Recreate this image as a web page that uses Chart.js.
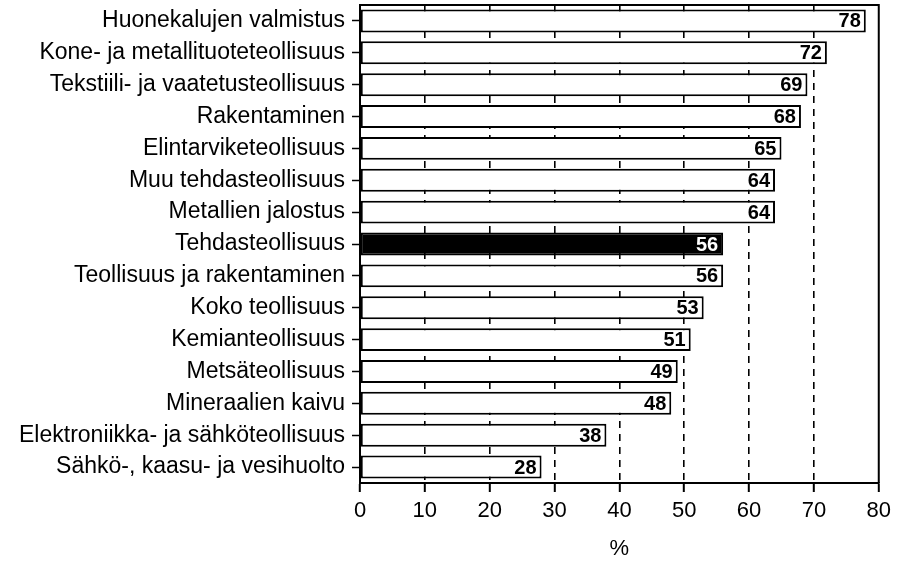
<!DOCTYPE html>
<html>
<head>
<meta charset="utf-8">
<script src="https://cdn.jsdelivr.net/npm/chart.js@4/dist/chart.umd.min.js"></script>
<style>
  html, body { margin: 0; padding: 0; background: #fff; }
  #wrap { width: 897px; height: 562px; }
</style>
</head>
<body>
<div id="wrap"><canvas id="c" width="897" height="562"></canvas></div>
<script>
const categories = [
  "Huonekalujen valmistus",
  "Kone- ja metallituoteteollisuus",
  "Tekstiili- ja vaatetusteollisuus",
  "Rakentaminen",
  "Elintarviketeollisuus",
  "Muu tehdasteollisuus",
  "Metallien jalostus",
  "Tehdasteollisuus",
  "Teollisuus ja rakentaminen",
  "Koko teollisuus",
  "Kemianteollisuus",
  "Metsäteollisuus",
  "Mineraalien kaivu",
  "Elektroniikka- ja sähköteollisuus",
  "Sähkö-, kaasu- ja vesihuolto"
];
const values = [78, 72, 69, 68, 65, 64, 64, 56, 56, 53, 51, 49, 48, 38, 28];
const highlighted = ["Tehdasteollisuus"];
const xTicks = [0, 10, 20, 30, 40, 50, 60, 70, 80];
const xTitle = "%";

const isHi = (i) => highlighted.includes(categories[i]);

const framePlugin = {
  id: 'frame',
  afterDraw(chart) {
    const a = chart.chartArea, ctx = chart.ctx;
    ctx.save();
    ctx.strokeStyle = '#000';
    ctx.lineWidth = 2;
    ctx.setLineDash([]);
    ctx.beginPath();
    ctx.moveTo(a.left, a.top);
    ctx.lineTo(a.right, a.top);
    ctx.lineTo(a.right, a.bottom);
    ctx.stroke();
    ctx.restore();
  }
};

const valueLabels = {
  id: 'valueLabels',
  afterDatasetsDraw(chart) {
    const ctx = chart.ctx;
    const meta = chart.getDatasetMeta(0);
    ctx.save();
    ctx.font = 'bold 20px "Liberation Sans", Arial, sans-serif';
    ctx.textAlign = 'right';
    ctx.textBaseline = 'middle';
    meta.data.forEach((bar, i) => {
      ctx.fillStyle = isHi(i) ? '#fff' : '#000';
      ctx.fillText(String(values[i]), bar.x - 5, bar.y + 1);
    });
    ctx.restore();
  }
};

new Chart(document.getElementById('c'), {
  type: 'bar',
  data: {
    labels: categories,
    datasets: [{
      data: values,
      backgroundColor: categories.map((c, i) => isHi(i) ? '#000' : '#fff'),
      borderColor: '#000',
      borderWidth: 2,
      borderSkipped: false,
      barPercentage: 0.72,
      categoryPercentage: 1.0
    }]
  },
  options: {
    indexAxis: 'y',
    responsive: false,
    animation: false,
    layout: { padding: { left: 0, right: 16, top: 5, bottom: 0 } },
    plugins: { legend: { display: false }, tooltip: { enabled: false } },
    scales: {
      x: {
        type: 'linear',
        min: 0, max: 80,
        afterBuildTicks(scale) { scale.ticks = xTicks.map(v => ({ value: v })); },
        afterFit(scale) { scale.height = 79; },
        grid: {
          color: (ctx) => (ctx.tick && (ctx.tick.value === 0 || ctx.tick.value === 80)) ? 'rgba(0,0,0,0)' : '#000',
          lineWidth: 1.6,
          drawTicks: true,
          tickLength: 9,
          tickColor: '#000',
          tickWidth: 2,
          tickBorderDash: []
        },
        border: { display: true, color: '#000', width: 2, dash: [7, 6] },
        ticks: {
          color: '#000',
          padding: 6,
          font: { family: '"Liberation Sans", Arial, sans-serif', size: 22 },
          maxRotation: 0
        },
        title: {
          display: true,
          text: xTitle,
          color: '#000',
          font: { family: '"Liberation Sans", Arial, sans-serif', size: 22 },
          padding: { top: 0, bottom: 0 }
        }
      },
      y: {
        type: 'category',
        afterFit(scale) {
          scale.width = 360;
          scale.paddingTop = 0;
          scale.paddingBottom = 0;
        },
        grid: {
          offset: false,
          drawOnChartArea: false,
          drawTicks: true,
          tickLength: 8,
          tickColor: '#000',
          tickWidth: 1.5,
          color: '#000'
        },
        border: { display: true, color: '#000', width: 2 },
        ticks: {
          color: '#000',
          padding: 7,
          autoSkip: false,
          font: { family: '"Liberation Sans", Arial, sans-serif', size: 23 }
        }
      }
    }
  },
  plugins: [framePlugin, valueLabels]
});
</script>
</body>
</html>
